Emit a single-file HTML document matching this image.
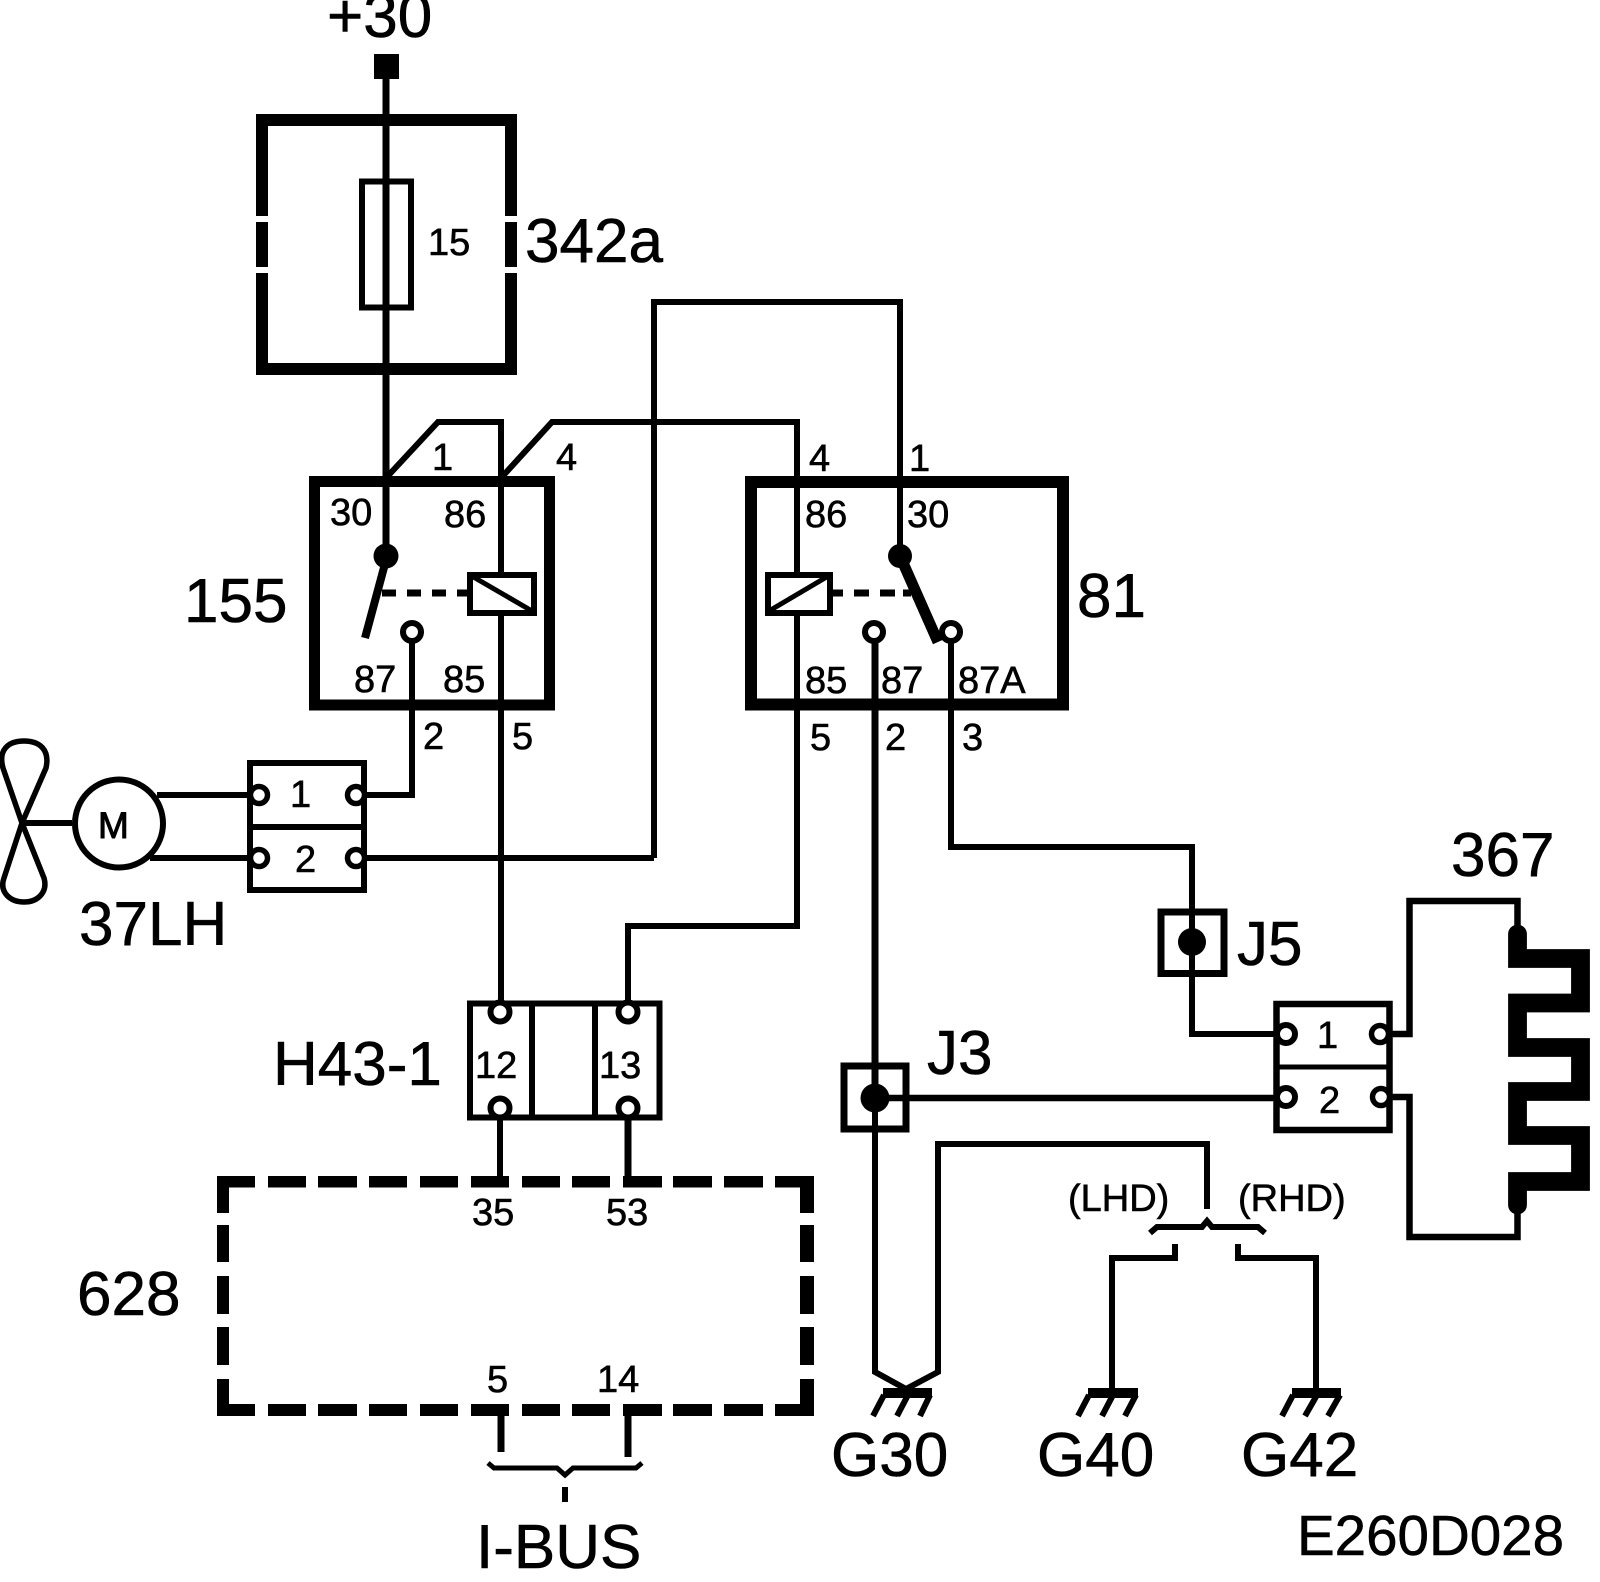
<!DOCTYPE html>
<html><head><meta charset="utf-8"><style>
html,body{margin:0;padding:0;background:#fff}
svg{display:block}
text{font-family:"Liberation Sans",sans-serif;fill:#000;stroke:#000;stroke-width:.6px}
.s{font-size:38px}.b{font-size:62px}
.w{fill:none;stroke:#000;stroke-width:6;stroke-linejoin:miter}
</style></head><body>
<svg width="1600" height="1582" viewBox="0 0 1600 1582" xmlns="http://www.w3.org/2000/svg">
<rect width="1600" height="1582" fill="#fff"/>

<!-- +30 / fuse box -->
<text class="b" x="327" y="37">+30</text>
<rect x="374" y="54" width="25" height="25"/>
<rect x="262" y="120" width="249" height="249" fill="none" stroke="#000" stroke-width="12"/>
<rect x="250" y="216" width="24" height="6" fill="#fff"/><rect x="250" y="267" width="24" height="6" fill="#fff"/>
<rect x="500" y="216" width="24" height="6" fill="#fff"/><rect x="500" y="267" width="24" height="6" fill="#fff"/>
<rect x="362" y="181.500" width="49" height="126" fill="none" stroke="#000" stroke-width="6"/>
<path d="M386 79V556" fill="none" stroke="#000" stroke-width="7"/>
<text class="s" x="428" y="255">15</text>
<text class="b" x="525" y="262">342a</text>

<!-- relay 155 -->
<rect x="314.500" y="481.500" width="235" height="223.500" fill="none" stroke="#000" stroke-width="11"/>
<path class="w" d="M386 478L438 422H501V1005"/>
<path class="w" d="M501 478L552 422H797V926H628V1012"/>
<text class="s" x="432" y="470">1</text>
<text class="s" x="556" y="470">4</text>
<text class="s" x="330" y="525">30</text>
<text class="s" x="444" y="527">86</text>
<text class="s" x="354" y="692">87</text>
<text class="s" x="443" y="692">85</text>
<text class="b" x="184" y="622">155</text>
<circle cx="386" cy="556" r="12.500"/>
<path d="M386 560L365 638" stroke="#000" stroke-width="8" fill="none"/>
<path d="M382 593H467" stroke="#000" stroke-width="7" stroke-dasharray="14 11" fill="none"/>
<rect x="470" y="575" width="64" height="38" fill="#fff" stroke="#000" stroke-width="6"/>
<path d="M470 575L532 611" stroke="#000" stroke-width="5" fill="none"/>
<path d="M501 425V572M501 613V1005" class="w"/>
<path class="w" d="M412 640V795H365"/>
<circle cx="412" cy="632" r="9" fill="#fff" stroke="#000" stroke-width="6"/>
<text class="s" x="423" y="749">2</text>
<text class="s" x="512" y="749">5</text>

<!-- relay 81 -->
<rect x="751" y="482" width="312" height="222.500" fill="none" stroke="#000" stroke-width="12"/>
<path class="w" d="M654 858V302H900V556"/>
<path class="w" d="M366 858H654"/>
<text class="s" x="809" y="471">4</text>
<text class="s" x="909" y="471">1</text>
<text class="s" x="805" y="527">86</text>
<text class="s" x="907" y="527">30</text>
<text class="s" x="805" y="693">85</text>
<text class="s" x="881" y="693">87</text>
<text class="s" x="958" y="693">87A</text>
<text class="s" x="810" y="750">5</text>
<text class="s" x="885" y="750">2</text>
<text class="s" x="962" y="750">3</text>
<text class="b" x="1077" y="617">81</text>
<circle cx="900" cy="556" r="12"/>
<path d="M900 556L938 642" stroke="#000" stroke-width="11" fill="none"/>
<path d="M833 593H911" stroke="#000" stroke-width="7" stroke-dasharray="10 11 15 11 15 8 9" fill="none"/>
<rect x="768" y="575" width="62" height="38" fill="#fff" stroke="#000" stroke-width="6"/>
<path d="M769 611L830 575" stroke="#000" stroke-width="5" fill="none"/>
<path d="M875 640V1372L906 1389L938 1372V1144H1207V1209" fill="none" stroke="#000" stroke-width="6"/>
<path d="M875 640V1098" fill="none" stroke="#000" stroke-width="7"/>
<circle cx="874" cy="632" r="9" fill="#fff" stroke="#000" stroke-width="6"/>
<path class="w" d="M951 640V847H1192V1034H1276"/>
<circle cx="951" cy="632" r="9" fill="#fff" stroke="#000" stroke-width="6"/>

<!-- motor & fan -->
<circle cx="119" cy="823.500" r="44" fill="none" stroke="#000" stroke-width="6"/>
<text x="98" y="838" style="font-size:37px;stroke-width:1px">M</text>
<path class="w" d="M22 823H72M157 795H250M150 858H250"/>
<path d="M22 823L3 768C-2 750 8 741 24 741C40 741 50 750 46 768L22 823L4 878C-1 892 10 902 24 902C38 902 48 892 44 878Z" fill="none" stroke="#000" stroke-width="5.500"/>
<text class="b" x="79" y="945">37LH</text>

<!-- connector 1/2 left -->
<rect x="250" y="763" width="114" height="127" fill="#fff" stroke="#000" stroke-width="6"/>
<path class="w" d="M250 827H364"/>
<circle cx="259" cy="795" r="8.500" fill="#fff" stroke="#000" stroke-width="5.500"/>
<circle cx="259" cy="858" r="8.500" fill="#fff" stroke="#000" stroke-width="5.500"/>
<circle cx="356" cy="795" r="8.500" fill="#fff" stroke="#000" stroke-width="5.500"/>
<circle cx="356" cy="858" r="8.500" fill="#fff" stroke="#000" stroke-width="5.500"/>
<path class="w" d="M366 795H412M366 858H500"/>
<text class="s" x="290" y="807">1</text>
<text class="s" x="295" y="872">2</text>

<!-- H43-1 -->
<rect x="470" y="1003.500" width="189.500" height="114" fill="#fff" stroke="#000" stroke-width="6"/>
<path class="w" d="M532 1003V1117M595 1003V1117"/>
<circle cx="500" cy="1012" r="9.500" fill="#fff" stroke="#000" stroke-width="6"/>
<circle cx="628" cy="1012" r="9.500" fill="#fff" stroke="#000" stroke-width="6"/>
<circle cx="500" cy="1108" r="9.500" fill="#fff" stroke="#000" stroke-width="6"/>
<circle cx="628" cy="1108" r="9.500" fill="#fff" stroke="#000" stroke-width="6"/>
<text class="s" x="475" y="1078">12</text>
<text class="s" x="599" y="1078">13</text>
<text class="b" x="273" y="1085">H43-1</text>
<path class="w" d="M500 1118V1178"/>
<path d="M628 1118V1178" fill="none" stroke="#000" stroke-width="7"/>

<!-- 628 dashed box -->
<g fill="#000">
<rect x="217" y="1176" width="38" height="11.500"/><rect x="268" y="1176" width="38" height="11.500"/><rect x="318" y="1176" width="39" height="11.500"/><rect x="369" y="1176" width="38" height="11.500"/><rect x="420" y="1176" width="38" height="11.500"/><rect x="471" y="1176" width="38" height="11.500"/><rect x="522" y="1176" width="38" height="11.500"/><rect x="572" y="1176" width="38" height="11.500"/><rect x="623" y="1176" width="39" height="11.500"/><rect x="673" y="1176" width="39" height="11.500"/><rect x="724" y="1176" width="39" height="11.500"/><rect x="775" y="1176" width="39" height="11.500"/>
<rect x="217" y="1404" width="38" height="12"/><rect x="268" y="1404" width="38" height="12"/><rect x="318" y="1404" width="39" height="12"/><rect x="369" y="1404" width="38" height="12"/><rect x="420" y="1404" width="38" height="12"/><rect x="471" y="1404" width="38" height="12"/><rect x="522" y="1404" width="38" height="12"/><rect x="572" y="1404" width="38" height="12"/><rect x="623" y="1404" width="39" height="12"/><rect x="673" y="1404" width="39" height="12"/><rect x="724" y="1404" width="39" height="12"/><rect x="775" y="1404" width="39" height="12"/>
<rect x="217" y="1176" width="12" height="37"/><rect x="217" y="1225" width="12" height="37"/><rect x="217" y="1276" width="12" height="38"/><rect x="217" y="1327" width="12" height="38"/><rect x="217" y="1379" width="12" height="37"/>
<rect x="800" y="1176" width="14" height="37"/><rect x="800" y="1225" width="14" height="37"/><rect x="800" y="1276" width="14" height="38"/><rect x="800" y="1327" width="14" height="38"/><rect x="800" y="1379" width="14" height="37"/>
</g>
<text class="s" x="472" y="1225">35</text>
<text class="s" x="606" y="1225">53</text>
<text class="s" x="487" y="1392">5</text>
<text class="s" x="597" y="1392">14</text>
<text class="b" x="77" y="1315">628</text>
<path d="M501 1416V1452M628 1416V1457" fill="none" stroke="#000" stroke-width="7"/>
<path d="M488 1463L494 1468H557L565 1475L573 1468H636L642 1463" fill="none" stroke="#000" stroke-width="5"/>
<path d="M565 1487V1502" fill="none" stroke="#000" stroke-width="6"/>
<text class="b" x="476" y="1568">I-BUS</text>

<!-- J5, J3 -->
<rect x="1161" y="912" width="63" height="61.500" fill="none" stroke="#000" stroke-width="7"/>
<circle cx="1192" cy="942" r="14"/>
<text class="b" x="1237" y="965">J5</text>
<rect x="844" y="1066" width="62" height="63" fill="none" stroke="#000" stroke-width="7"/>
<circle cx="875" cy="1098" r="14.500"/>
<text class="b" x="927" y="1074">J3</text>
<path d="M875 1098H1276" fill="none" stroke="#000" stroke-width="6.500"/>

<!-- connector 1/2 right -->
<rect x="1276.500" y="1004" width="113" height="126" fill="#fff" stroke="#000" stroke-width="6.500"/>
<path d="M1276 1067H1390" fill="none" stroke="#000" stroke-width="5"/>
<circle cx="1286" cy="1034" r="9" fill="#fff" stroke="#000" stroke-width="6"/>
<circle cx="1286" cy="1097" r="9" fill="#fff" stroke="#000" stroke-width="6"/>
<circle cx="1380" cy="1034" r="8.500" fill="#fff" stroke="#000" stroke-width="5.500"/>
<circle cx="1381" cy="1097" r="8.500" fill="#fff" stroke="#000" stroke-width="5.500"/>
<text class="s" x="1317" y="1048">1</text>
<text class="s" x="1319" y="1113">2</text>

<!-- heater 367 -->
<path d="M1391 1034H1409.500V901H1517.500V930" fill="none" stroke="#000" stroke-width="6.500"/>
<path d="M1391 1097H1409.500V1237H1517.500V1208" fill="none" stroke="#000" stroke-width="6.500"/>
<path d="M1517.500 934V958.500H1580.500V1003H1517.500V1047.500H1580.500V1091.500H1517.500V1135.500H1580.500V1181.500H1517.500V1205" fill="none" stroke="#000" stroke-width="18.800" stroke-linecap="round" stroke-linejoin="miter"/>
<text class="b" x="1451" y="876">367</text>

<!-- LHD / RHD -->
<text class="s" x="1068" y="1211">(LHD)</text>
<text class="s" x="1238" y="1211">(RHD)</text>
<path d="M1150 1233L1157 1227H1202L1207 1221L1212 1227H1258L1265 1233" fill="none" stroke="#000" stroke-width="6"/>
<path class="w" d="M1175 1244V1258H1112V1390"/>
<path class="w" d="M1238 1244V1258H1316V1390"/>

<!-- grounds -->
<g fill="none" stroke="#000" stroke-width="6">
<path d="M883 1393H932" stroke-width="10"/><path d="M884 1395L873 1416M908 1395L897 1416M930 1395L920 1416"/>
<path d="M1088 1393H1138" stroke-width="10"/><path d="M1089 1395L1078 1416M1113 1395L1102 1416M1136 1395L1125 1416"/>
<path d="M1292 1393H1341" stroke-width="10"/><path d="M1293 1395L1282 1416M1317 1395L1305 1416M1340 1395L1328 1416"/>
</g>
<text class="b" x="831" y="1476">G30</text>
<text class="b" x="1037" y="1476">G40</text>
<text class="b" x="1241" y="1476">G42</text>
<text x="1297" y="1555" style="font-size:56.500px">E260D028</text>
</svg>
</body></html>
